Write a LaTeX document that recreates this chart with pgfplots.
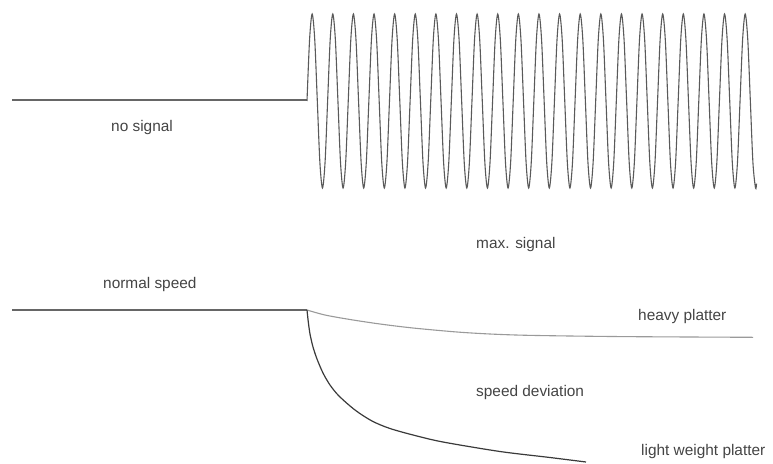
\documentclass[border=0pt]{standalone}
\usepackage{pgfplots}
\pgfplotsset{compat=1.18}
\usepackage{fontspec}
\setmainfont{Liberation Sans}
\definecolor{txt}{HTML}{444444}
\definecolor{sig}{HTML}{5A5A5A}
\definecolor{flat}{HTML}{666666}
\definecolor{heavy}{HTML}{9A9A9A}
\definecolor{light}{HTML}{3A3A3A}
\begin{document}
\fontsize{15.4}{18}\selectfont
\begin{tikzpicture}
\path[use as bounding box] (0,0) rectangle (773pt,463pt);
% bottom: pixel coordinates
\begin{axis}[at={(0,0)},anchor=south west,scale only axis,width=773pt,height=463pt,
  hide axis,clip=false,xmin=0,xmax=773,ymin=0,ymax=463,y dir=reverse]
\addplot[flat,line width=1.2pt] coordinates {(12,310) (307,310)};
\addplot[heavy,line width=1.1pt,smooth] coordinates {
(307,310) (325,315) (350,319.5) (380,324) (413,328) (457,332) (490,334)
(523,335.2) (570,336) (623,336.6) (690,337) (753,337.3)};
\addplot[light,line width=1.2pt,smooth] coordinates {
(307,310) (308.3,322) (310,334) (313,347) (317,359) (323,373) (330,385) (339,396)
(355,410) (372,421) (390,428.5) (415,435.5) (443,442) (500,451.5) (550,457.5) (586,462)};
\tikzset{every node/.style={inner sep=0pt,text=txt,anchor=base west}}
\node at (axis cs:111,131) {no signal};
\node at (axis cs:476,248) {max. signal};
\node at (axis cs:103,288.5) {normal speed};
\node at (axis cs:638,320) {heavy platter};
\node at (axis cs:476,396.5) {speed deviation};
\node at (axis cs:641,455) {light weight platter};
\end{axis}
% top: x in signal cycles, y in amplitude units
\begin{axis}[at={(0,0)},anchor=south west,scale only axis,width=773pt,height=463pt,
  hide axis,clip=false,xmin=-14.888,xmax=22.599,ymin=-4.161,ymax=1.161]
\addplot[flat,line width=1.2pt] coordinates {(-14.306,0.012) (0,0.012)};
\addplot[sig,line width=1.1pt,smooth] coordinates {
(0,0)(0.125,.7071)(0.25,1)(0.375,.7071)(0.5,0)(0.625,-.7071)(0.75,-1)(0.875,-.7071)
(1,0)(1.125,.7071)(1.25,1)(1.375,.7071)(1.5,0)(1.625,-.7071)(1.75,-1)(1.875,-.7071)
(2,0)(2.125,.7071)(2.25,1)(2.375,.7071)(2.5,0)(2.625,-.7071)(2.75,-1)(2.875,-.7071)
(3,0)(3.125,.7071)(3.25,1)(3.375,.7071)(3.5,0)(3.625,-.7071)(3.75,-1)(3.875,-.7071)
(4,0)(4.125,.7071)(4.25,1)(4.375,.7071)(4.5,0)(4.625,-.7071)(4.75,-1)(4.875,-.7071)
(5,0)(5.125,.7071)(5.25,1)(5.375,.7071)(5.5,0)(5.625,-.7071)(5.75,-1)(5.875,-.7071)
(6,0)(6.125,.7071)(6.25,1)(6.375,.7071)(6.5,0)(6.625,-.7071)(6.75,-1)(6.875,-.7071)
(7,0)(7.125,.7071)(7.25,1)(7.375,.7071)(7.5,0)(7.625,-.7071)(7.75,-1)(7.875,-.7071)
(8,0)(8.125,.7071)(8.25,1)(8.375,.7071)(8.5,0)(8.625,-.7071)(8.75,-1)(8.875,-.7071)
(9,0)(9.125,.7071)(9.25,1)(9.375,.7071)(9.5,0)(9.625,-.7071)(9.75,-1)(9.875,-.7071)
(10,0)(10.125,.7071)(10.25,1)(10.375,.7071)(10.5,0)(10.625,-.7071)(10.75,-1)(10.875,-.7071)
(11,0)(11.125,.7071)(11.25,1)(11.375,.7071)(11.5,0)(11.625,-.7071)(11.75,-1)(11.875,-.7071)
(12,0)(12.125,.7071)(12.25,1)(12.375,.7071)(12.5,0)(12.625,-.7071)(12.75,-1)(12.875,-.7071)
(13,0)(13.125,.7071)(13.25,1)(13.375,.7071)(13.5,0)(13.625,-.7071)(13.75,-1)(13.875,-.7071)
(14,0)(14.125,.7071)(14.25,1)(14.375,.7071)(14.5,0)(14.625,-.7071)(14.75,-1)(14.875,-.7071)
(15,0)(15.125,.7071)(15.25,1)(15.375,.7071)(15.5,0)(15.625,-.7071)(15.75,-1)(15.875,-.7071)
(16,0)(16.125,.7071)(16.25,1)(16.375,.7071)(16.5,0)(16.625,-.7071)(16.75,-1)(16.875,-.7071)
(17,0)(17.125,.7071)(17.25,1)(17.375,.7071)(17.5,0)(17.625,-.7071)(17.75,-1)(17.875,-.7071)
(18,0)(18.125,.7071)(18.25,1)(18.375,.7071)(18.5,0)(18.625,-.7071)(18.75,-1)(18.875,-.7071)
(19,0)(19.125,.7071)(19.25,1)(19.375,.7071)(19.5,0)(19.625,-.7071)(19.75,-1)(19.875,-.7071)
(20,0)(20.125,.7071)(20.25,1)(20.375,.7071)(20.5,0)(20.625,-.7071)(20.75,-1)(20.875,-.7071)
(21,0)(21.125,.7071)(21.25,1)(21.375,.7071)(21.5,0)(21.625,-.7071)(21.75,-1)(21.8,-.95)};
\end{axis}
\end{tikzpicture}
\end{document}
